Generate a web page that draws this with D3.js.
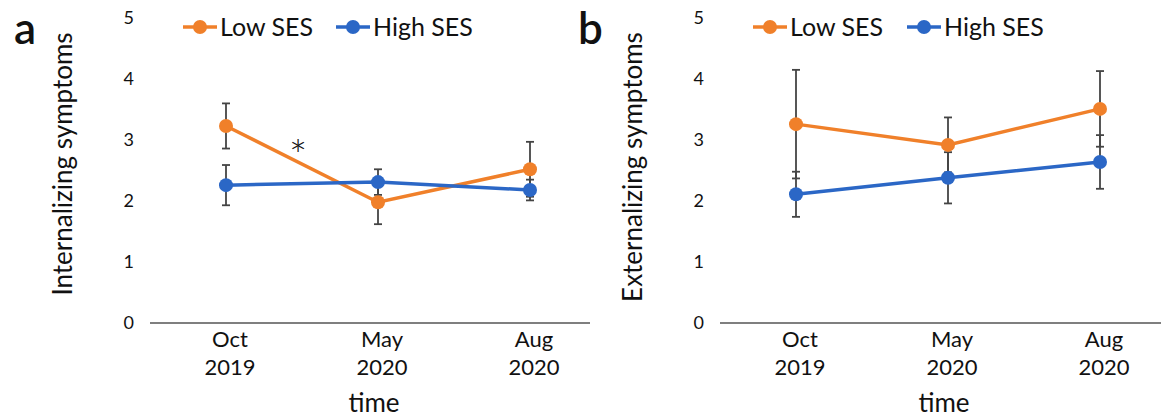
<!DOCTYPE html>
<html>
<head>
<meta charset="utf-8">
<script src="https://cdn.jsdelivr.net/npm/d3@7"></script>
<style>
  body { margin: 0; background: #fff; }
  svg text { font-family: Lato, "Open Sans", sans-serif; fill: #111; }
</style>
</head>
<body>
<svg id="chart" width="1161" height="420"></svg>
<script>
// values
let months = ['Oct', 'May', 'Aug'];
let years = ['2019', '2020', '2020'];
let series_names = ['Low SES', 'High SES'];
let y_ticks = [0, 1, 2, 3, 4, 5];

let int_low = [3.23, 1.98, 2.52];
let int_low_err = [0.37, 0.36, 0.45];
let int_high = [2.26, 2.31, 2.18];
let int_high_err = [0.33, 0.21, 0.17];

let ext_low = [3.26, 2.92, 3.51];
let ext_low_err = [0.89, 0.45, 0.62];
let ext_high = [2.11, 2.38, 2.64];
let ext_high_err = [0.37, 0.42, 0.44];

let colors = ['#F0802A', '#2B67C6'];

function panel(svg, opts) {
    let g = svg.append('g');

    let x = d3.scaleBand()
        .domain(months)
        .range([opts.left, opts.left + 456]);
    let y = d3.scaleLinear()
        .domain([0, 5])
        .range([323, 18]);
    let cx = function (i) { return x(months[i]) + x.bandwidth() / 2; };

    // x axis line
    g.append('line')
        .attr('x1', opts.left).attr('x2', opts.axisEnd)
        .attr('y1', y(0)).attr('y2', y(0))
        .attr('stroke', '#555').attr('stroke-width', 1.5);

    // y tick labels
    let yAxis = g.append('g')
        .attr('transform', 'translate(' + opts.left + ',0)')
        .call(d3.axisLeft(y).tickValues(y_ticks).tickSize(0).tickPadding(16).tickFormat(d3.format('d')));
    yAxis.select('.domain').remove();
    yAxis.selectAll('text')
        .style('font-family', 'Lato, sans-serif')
        .style('font-size', '18px')
        .attr('fill', '#111');

    // category labels, two lines
    months.forEach(function (m, i) {
        let t = g.append('text')
            .attr('x', cx(i))
            .attr('text-anchor', 'middle')
            .style('font-size', '22px');
        t.append('tspan').attr('x', cx(i) + 4).attr('y', 347).text(m);
        t.append('tspan').attr('x', cx(i) + 4).attr('y', 375).text(years[i]);
    });

    g.append('text')
        .attr('x', cx(1) - 4).attr('y', 412)
        .attr('text-anchor', 'middle')
        .style('font-size', '26px')
        .text('time');

    g.append('text')
        .attr('transform', 'translate(' + opts.titleX + ',' + opts.titleY + ') rotate(-90)')
        .attr('text-anchor', 'middle')
        .style('font-size', '26px')
        .text(opts.title);

    g.append('text')
        .attr('x', opts.letterX).attr('y', 44)
        .style('font-size', '44px')
        .style('font-weight', '600')
        .text(opts.letter);

    let all = [[opts.low, opts.lowErr], [opts.high, opts.highErr]];

    // error bars first
    all.forEach(function (s) {
        s[0].forEach(function (v, i) {
            let top = y(v + s[1][i]), bot = y(v - s[1][i]);
            g.append('line')
                .attr('x1', cx(i)).attr('x2', cx(i))
                .attr('y1', top).attr('y2', bot)
                .attr('stroke', '#444').attr('stroke-width', 1.8);
            [top, bot].forEach(function (yy) {
                g.append('line')
                    .attr('x1', cx(i) - 4).attr('x2', cx(i) + 4)
                    .attr('y1', yy).attr('y2', yy)
                    .attr('stroke', '#444').attr('stroke-width', 1.8);
            });
        });
    });

    let line = d3.line()
        .x(function (d, i) { return cx(i); })
        .y(function (d) { return y(d); });

    all.forEach(function (s, k) {
        g.append('path')
            .attr('d', line(s[0]))
            .attr('fill', 'none')
            .attr('stroke', colors[k])
            .attr('stroke-width', 3.5);
        g.selectAll('.dot' + k)
            .data(s[0])
            .enter().append('circle')
            .attr('cx', function (d, i) { return cx(i); })
            .attr('cy', function (d) { return y(d); })
            .attr('r', 7)
            .attr('fill', colors[k]);
    });

    // legend
    series_names.forEach(function (name, k) {
        let lx = opts.legendX[k];
        g.append('line')
            .attr('x1', lx).attr('x2', lx + 34)
            .attr('y1', 27).attr('y2', 27)
            .attr('stroke', colors[k]).attr('stroke-width', 3.5);
        g.append('circle')
            .attr('cx', lx + 17).attr('cy', 27).attr('r', 7)
            .attr('fill', colors[k]);
        g.append('text')
            .attr('x', lx + 37).attr('y', 36)
            .style('font-size', '25px')
            .text(name);
    });

    if (opts.star) {
        g.append('text')
            .attr('x', (cx(0) + cx(1)) / 2 - 4)
            .attr('y', y(opts.star))
            .attr('dy', 26)
            .attr('text-anchor', 'middle')
            .style('font-size', '44px')
            .style('font-weight', '300')
            .text('*');
    }
}

let svg = d3.select('#chart');

panel(svg, {
    left: 150, axisEnd: 590,
    title: 'Internalizing symptoms', titleX: 72, titleY: 164,
    letter: 'a', letterX: 14,
    low: int_low, lowErr: int_low_err, high: int_high, highErr: int_high_err,
    legendX: [183, 336],
    star: 2.9
});

panel(svg, {
    left: 720, axisEnd: 1161,
    title: 'Externalizing symptoms', titleX: 642, titleY: 167,
    letter: 'b', letterX: 578,
    low: ext_low, lowErr: ext_low_err, high: ext_high, highErr: ext_high_err,
    legendX: [753, 907],
    star: null
});
</script>
</body>
</html>
